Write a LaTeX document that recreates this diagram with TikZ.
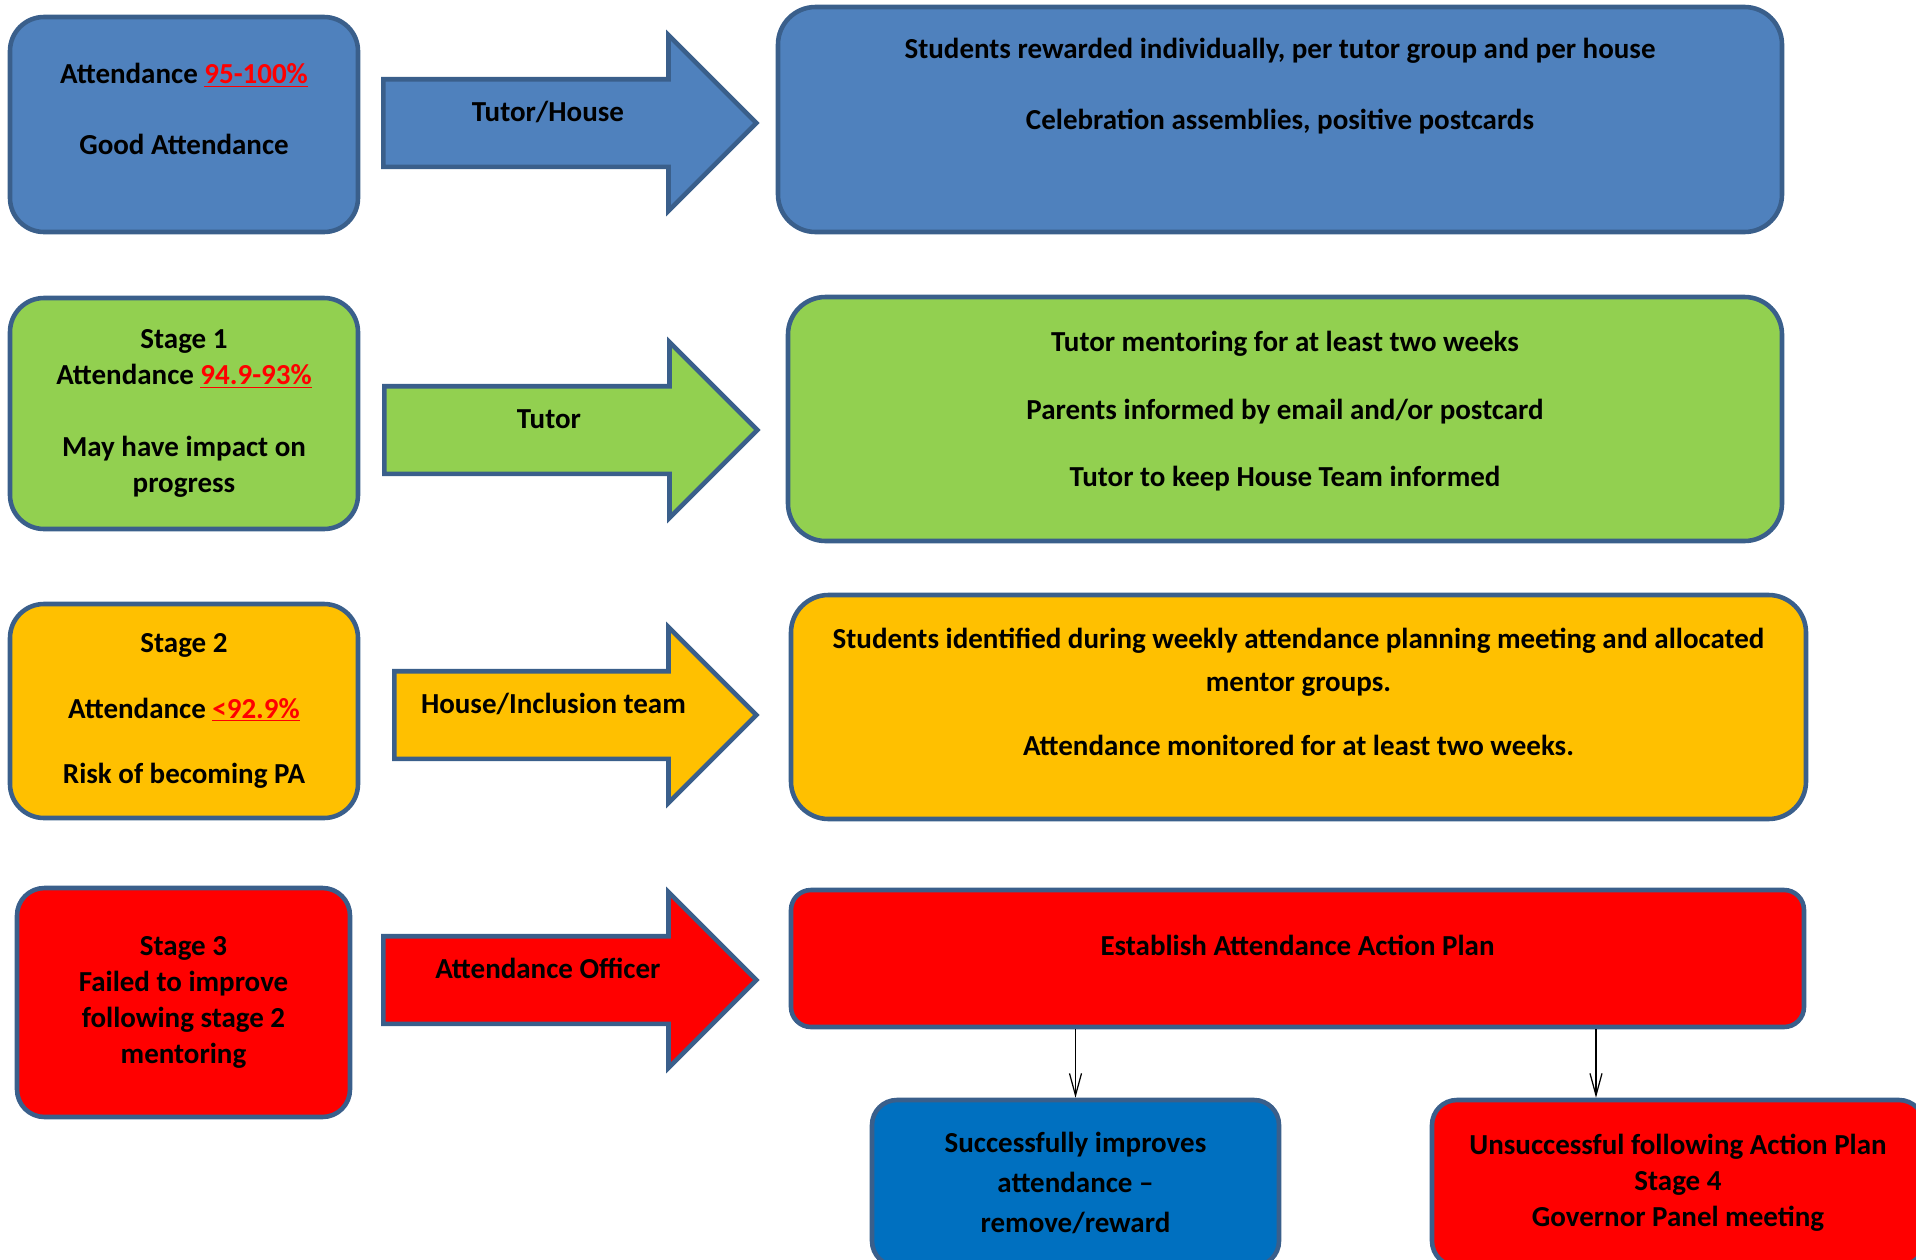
\documentclass[tikz,border=0pt]{standalone}
\usepackage{fontspec}
\setmainfont{Carlito}
\usepackage{tikz}
\usetikzlibrary{shapes.arrows,arrows.meta,positioning}

\definecolor{edgeblue}{HTML}{3A5F8B}
\definecolor{goodblue}{HTML}{4F81BD}
\definecolor{stgreen}{HTML}{92D050}
\definecolor{stamber}{HTML}{FFC000}
\definecolor{stred}{HTML}{FF0000}
\definecolor{okblue}{HTML}{0070C0}

\newcommand{\redpct}[1]{\textcolor{red}{\underline{#1}}}

\begin{document}
\begin{tikzpicture}[
    box/.style={
        rectangle, draw=edgeblue, line width=2.6pt,
        rounded corners=0.68cm,
        align=center,
        inner sep=4pt,
        font=\fontsize{16.5}{20.5}\selectfont\bfseries
    },
    fat/.style={
        single arrow, draw=edgeblue, line width=2.6pt,
        single arrow head extend=0.88cm,
        single arrow tip angle=90,
        minimum height=7.46cm,
        text height=0.5cm, text depth=0.56cm,
        inner xsep=0pt, inner ysep=0.3cm,
        anchor=tail,
        font=\fontsize{16.5}{20.5}\selectfont\bfseries
    },
    conn/.style={-{Straight Barb[length=4.4mm,width=2.4mm]}, line width=0.7pt},
]

\useasboundingbox (0,0) rectangle (38.32,-25.2);
\clip (0,0) rectangle (38.32,-25.2);

% attendance bands
\node[box, fill=goodblue, minimum width=6.96cm, minimum height=4.30cm] (good) at (3.68,-2.49)
    {Attendance \redpct{95-100\%}\\[20pt]Good Attendance\\[-3pt]\mbox{}};
\node[box, fill=stgreen, minimum width=6.96cm, minimum height=4.62cm] (st1) at (3.68,-8.27)
    {Stage 1\\Attendance \redpct{94.9-93\%}\\[20pt]May have impact on\\progress};
\node[box, fill=stamber, minimum width=6.96cm, minimum height=4.28cm] (st2) at (3.68,-14.22)
    {Stage 2\\[17pt]Attendance \redpct{<92.9\%}\\[17pt]Risk of becoming PA};
\node[box, fill=stred, rounded corners=0.55cm, minimum width=6.66cm, minimum height=4.58cm] (st3) at (3.67,-20.05)
    {Stage 3\\Failed to improve\\following stage 2\\mentoring};

% who acts
\node[fat, fill=goodblue] (tutorhouse) at (7.62,-2.46) {Tutor/House};
\node[fat, fill=stgreen] (tutor) at (7.64,-8.60) {Tutor};
\node[fat, fill=stamber, minimum height=7.24cm] (inclusion) at (7.84,-14.30) {House/Inclusion team};
\node[fat, fill=stred] (officer) at (7.62,-19.60) {Attendance Officer};

% actions
\node[box, fill=goodblue, rounded corners=0.75cm, minimum width=20.08cm, minimum height=4.50cm] (reward) at (25.60,-2.39)
    {Students rewarded individually, per tutor group and per house\\[20pt]Celebration assemblies, positive postcards\\[20pt]\mbox{}};
\node[box, fill=stgreen, rounded corners=0.75cm, minimum width=19.88cm, minimum height=4.88cm] (mentor) at (25.70,-8.38)
    {Tutor mentoring for at least two weeks\\[18pt]Parents informed by email and/or postcard\\[18pt]Tutor to keep House Team informed\\[-9pt]\mbox{}};
\node[box, fill=stamber, rounded corners=0.75cm, minimum width=20.30cm, minimum height=4.48cm] (monitor) at (25.97,-14.14)
    {Students identified during weekly attendance planning meeting and allocated\\[4pt]mentor groups.\\[16pt]Attendance monitored for at least two weeks.\\[-3pt]\mbox{}};
\node[box, fill=stred, rounded corners=0.4cm, minimum width=20.26cm, minimum height=2.74cm] (plan) at (25.95,-19.17)
    {Establish Attendance Action Plan\\[-5pt]\mbox{}};

% outcomes
\node[box, fill=okblue, rounded corners=0.5cm, minimum width=8.14cm, minimum height=3.32cm] (improved) at (21.51,-23.66)
    {Successfully improves\\[2pt]attendance –\\[2pt]remove/reward};
\node[box, fill=stred, rounded corners=0.5cm, minimum width=9.84cm, minimum height=3.32cm] (panel) at (33.56,-23.66)
    {Unsuccessful following Action Plan\\Stage 4\\Governor Panel meeting};

\draw[conn] (plan.south -| improved.north) -- (improved.north);
\draw[conn] ([xshift=5.97cm]plan.south) -- ([xshift=5.97cm]plan.south |- panel.north);

\end{tikzpicture}
\end{document}
